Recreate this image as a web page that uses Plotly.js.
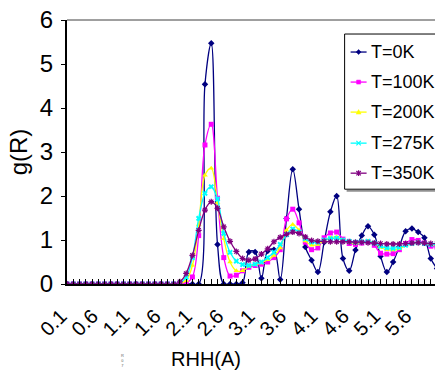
<!DOCTYPE html>
<html>
<head>
<meta charset="utf-8">
<script src="https://cdn.plot.ly/plotly-3.0.1.min.js"></script>
<style>
html,body{margin:0;padding:0;overflow:hidden;background:#fff;}
#chart{width:500px;height:371px;}
</style>
</head>
<body>
<div id="chart"></div>
<script>
// Category values (R, Angstrom)
const rValues = [0.1,0.2,0.3,0.4,0.5,0.6,0.7,0.8,0.9,1.0,1.1,1.2,1.3,1.4,1.5,1.6,1.7,1.8,1.9,2.0,
  2.1,2.2,2.3,2.4,2.5,2.6,2.7,2.8,2.9,3.0,3.1,3.2,3.3,3.4,3.5,3.6,3.7,3.8,3.9,4.0,
  4.1,4.2,4.3,4.4,4.5,4.6,4.7,4.8,4.9,5.0,5.1,5.2,5.3,5.4,5.5,5.6,5.7,5.8,5.9,6.0];

const tickValues = [0.1,0.6,1.1,1.6,2.1,2.6,3.1,3.6,4.1,4.6,5.1,5.6];
const tickLabels = ['0.1','0.6','1.1','1.6','2.1','2.6','3.1','3.6','4.1','4.6','5.1','5.6'];

const seriesNames = ['T=0K','T=100K','T=200K','T=275K','T=350K'];

const g0K = [0,0,0,0,0,0,0,0,0,0,0,0,0,0,0,0,0,0,0,0,
  0,0,4.54,5.47,0.90,0,0,0,0.03,0.73,0.73,0.13,0.75,0.78,0.10,1.49,2.61,1.70,0.84,0.54,
  0.27,0.95,1.64,2.00,0.58,0.30,0.77,1.10,1.31,1.12,0.63,0.27,0.50,0.85,1.20,1.26,1.18,1.05,0.58,0.35];

const g100K = [0,0,0,0,0,0,0,0,0,0,0,0,0,0,0,0,0,0,0,0.02,
  0.16,1.10,3.16,3.63,1.95,0.60,0.18,0.20,0.30,0.38,0.42,0.45,0.50,0.60,0.78,1.48,1.70,1.39,0.95,0.78,
  0.82,1.05,1.16,1.18,1.02,0.92,0.90,0.93,0.96,0.88,0.70,0.68,0.69,0.78,0.92,1.01,0.99,0.93,0.86,0.84];

const g200K = [0,0,0,0,0,0,0,0,0,0,0,0,0,0,0,0,0,0,0.01,0.08,
  0.42,1.35,2.47,2.63,1.85,1.03,0.50,0.30,0.30,0.40,0.44,0.48,0.55,0.65,0.82,1.22,1.35,1.22,0.98,0.88,
  0.90,0.98,1.05,1.07,1.00,0.95,0.92,0.95,0.97,0.93,0.83,0.78,0.77,0.80,0.87,0.93,0.95,0.92,0.90,0.89];

const g275K = [0,0,0,0,0,0,0,0,0,0,0,0,0,0,0,0,0,0,0.03,0.15,
  0.60,1.49,2.06,2.21,1.93,1.15,0.72,0.52,0.44,0.42,0.45,0.50,0.60,0.72,0.90,1.12,1.25,1.18,1.03,0.95,
  0.95,1.00,1.03,1.04,1.00,0.97,0.95,0.96,0.97,0.93,0.86,0.82,0.81,0.83,0.88,0.92,0.94,0.92,0.90,0.90];

const g350K = [0,0,0,0,0,0,0,0,0,0,0,0,0,0,0,0,0,0,0.05,0.24,
  0.65,1.22,1.68,1.87,1.72,1.30,0.97,0.74,0.58,0.54,0.57,0.68,0.80,0.96,1.06,1.13,1.18,1.15,1.07,0.99,
  0.97,0.97,0.96,0.96,0.96,0.96,0.95,0.95,0.94,0.93,0.92,0.91,0.91,0.91,0.92,0.93,0.94,0.93,0.92,0.92];

const seriesData = [g0K, g100K, g200K, g275K, g350K];
const colors = ['#000080','#FF00FF','#FFFF00','#00FFFF','#800080'];
const symbols = ['diamond','square','triangle-up','x','asterisk-open'];
const sizes = [5,5,5,5,5];

const traces = seriesData.map((ys, i) => ({
  type: 'scatter',
  mode: 'lines+markers',
  name: seriesNames[i],
  x: rValues,
  y: ys,
  showlegend: false,
  line: {color: colors[i], width: 1.3, shape: 'spline', smoothing: 1},
  marker: {color: colors[i], symbol: symbols[i], size: sizes[i],
           line: {color: colors[i], width: i === 4 ? 1.2 : 0}}
}));

const W = 500, H = 371;
const L = 67, T = 20, B = 371 - 283.7, PW = 370.5;
const R = W - L - PW;
const px2x = p => (p - L) / PW;
const py2y = p => (283.7 - p) / 263.7;

// Legend box (drawn as shapes + text annotations)
const legRowsY = [52, 82, 112, 143, 173];
const legLeft = 345, legTop = 34, legBottom = 189;
const sampleX0 = 351, sampleX1 = 367, sampleCX = 359, textX = 369;

const shapes = [
  {type: 'line', xref: 'paper', yref: 'paper', x0: 0, x1: 1, y0: 1, y1: 1,
   line: {color: '#404040', width: 1}},
  {type: 'line', xref: 'paper', yref: 'paper', x0: px2x(legLeft + 2), x1: px2x(470),
   y0: py2y(legBottom + 1.5), y1: py2y(legBottom + 1.5), line: {color: '#909090', width: 2}},
  {type: 'rect', xref: 'paper', yref: 'paper', x0: px2x(legLeft), x1: px2x(470),
   y0: py2y(legBottom), y1: py2y(legTop), fillcolor: '#ffffff', line: {color: '#000', width: 1}}
];
const annotations = [
  {text: 'RHH(A)', xref: 'paper', yref: 'paper', x: px2x(206), y: py2y(359),
   xanchor: 'center', yanchor: 'middle', showarrow: false,
   font: {size: 20, color: '#000'}},
  {text: 'R<br>θ<br>7', xref: 'paper', yref: 'paper', x: px2x(123), y: py2y(360),
   xanchor: 'center', yanchor: 'middle', showarrow: false,
   font: {size: 4, color: '#666'}}
];

function pth(points, close) {
  return 'M' + points.map(p => px2x(p[0]) + ',' + py2y(p[1])).join(' L') + (close ? ' Z' : '');
}

legRowsY.forEach((yy, i) => {
  const c = colors[i];
  shapes.push({type: 'line', xref: 'paper', yref: 'paper', x0: px2x(sampleX0), x1: px2x(sampleX1),
    y0: py2y(yy), y1: py2y(yy), line: {color: c, width: 1.3}});
  const m = 2.5;
  if (i === 0) {
    shapes.push({type: 'path', xref: 'paper', yref: 'paper', fillcolor: c, line: {color: c, width: 0.5},
      path: pth([[sampleCX, yy - m], [sampleCX + m, yy], [sampleCX, yy + m], [sampleCX - m, yy]], true)});
  } else if (i === 1) {
    shapes.push({type: 'path', xref: 'paper', yref: 'paper', fillcolor: c, line: {color: c, width: 0.5},
      path: pth([[sampleCX - 2, yy - 2], [sampleCX + 2, yy - 2], [sampleCX + 2, yy + 2], [sampleCX - 2, yy + 2]], true)});
  } else if (i === 2) {
    shapes.push({type: 'path', xref: 'paper', yref: 'paper', fillcolor: c, line: {color: c, width: 0.5},
      path: pth([[sampleCX, yy - 2.5], [sampleCX + 2.5, yy + 2], [sampleCX - 2.5, yy + 2]], true)});
  } else {
    shapes.push({type: 'path', xref: 'paper', yref: 'paper', line: {color: c, width: 1.2},
      path: pth([[sampleCX - 2.2, yy - 2.2], [sampleCX + 2.2, yy + 2.2]]) + ' ' +
            pth([[sampleCX - 2.2, yy + 2.2], [sampleCX + 2.2, yy - 2.2]])});
    if (i === 4) {
      shapes.push({type: 'path', xref: 'paper', yref: 'paper', line: {color: c, width: 1.2},
        path: pth([[sampleCX, yy - 2.8], [sampleCX, yy + 2.8]])});
    }
  }
  annotations.push({text: seriesNames[i], xref: 'paper', yref: 'paper',
    x: px2x(textX), y: py2y(yy), xanchor: 'left', yanchor: 'middle', showarrow: false,
    font: {size: 18, color: '#000'}});
});

const layout = {
  width: W, height: H,
  margin: {l: L, r: R, t: T, b: B, pad: 0},
  paper_bgcolor: '#ffffff',
  plot_bgcolor: '#ffffff',
  font: {family: 'Liberation Sans, Arial, sans-serif', color: '#000'},
  showlegend: false,
  xaxis: {
    range: [0.1, 6.0],
    tickmode: 'array', tickvals: tickValues, ticktext: tickLabels,
    tickangle: -45,
    tickfont: {size: 20},
    ticks: 'inside', ticklen: 5, tickcolor: '#000', tickwidth: 1,
    minor: {tick0: 0.1, dtick: 0.1, ticks: 'inside', ticklen: 5, tickcolor: '#000', tickwidth: 1},
    ticklabelstandoff: 11, ticklabelshift: -6,
    showline: true, linecolor: '#000', linewidth: 1.5,
    showgrid: false, zeroline: false
  },
  yaxis: {
    range: [0, 6],
    tickvals: [0,1,2,3,4,5,6],
    tickfont: {size: 24},
    ticks: 'outside', ticklen: 4, tickcolor: '#000',
    ticklabelstandoff: 3,
    showline: true, linecolor: '#000', linewidth: 2,
    showgrid: false, zeroline: false,
    title: {text: 'g(R)', font: {size: 24}, standoff: 5}
  },
  shapes: shapes,
  annotations: annotations
};

Plotly.newPlot('chart', traces, layout, {displayModeBar: false, staticPlot: true});
</script>
</body>
</html>
